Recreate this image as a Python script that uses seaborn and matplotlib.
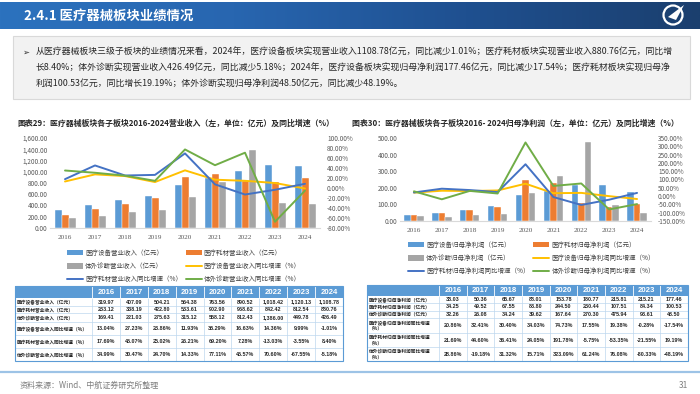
import matplotlib
matplotlib.use("Agg")
import matplotlib.pyplot as plt
from matplotlib.patches import Rectangle, Circle, Polygon, Patch
from matplotlib.lines import Line2D
from matplotlib.colors import LinearSegmentedColormap
from matplotlib.ticker import MultipleLocator, FuncFormatter
import numpy as np
import pandas as pd
import seaborn as sns

W, H = 700, 394

years = ["2016", "2017", "2018", "2019", "2020", "2021", "2022", "2023", "2024"]

# revenue (亿元) and yoy growth (%)
rev_device = [319.97, 407.09, 504.21, 564.38, 763.56, 890.52, 1018.42, 1120.13, 1108.78]
rev_consum = [233.12, 338.19, 422.80, 533.61, 902.90, 968.62, 842.42, 812.54, 880.76]
rev_ivd = [169.41, 221.03, 275.63, 315.12, 558.12, 812.43, 1386.00, 449.78, 426.49]
rev_device_yoy = [13.04, 27.23, 23.86, 11.93, 35.29, 16.63, 14.36, 9.99, -1.01]
rev_consum_yoy = [17.69, 45.07, 25.02, 26.21, 69.20, 7.28, -13.03, -3.55, 8.40]
rev_ivd_yoy = [34.99, 30.47, 24.70, 14.33, 77.11, 45.57, 70.60, -67.55, -5.18]

# net profit attributable to parent (亿元) and yoy growth (%)
np_device = [38.03, 50.36, 65.67, 88.01, 153.78, 180.77, 215.81, 215.21, 177.46]
np_consum = [34.25, 49.52, 67.55, 83.80, 244.50, 230.44, 107.51, 84.34, 100.53]
np_ivd = [32.26, 26.08, 34.24, 39.62, 167.64, 270.30, 475.94, 93.61, 48.50]
np_device_yoy = [20.86, 32.41, 30.40, 34.03, 74.73, 17.55, 19.38, -0.28, -17.54]
np_consum_yoy = [21.69, 44.60, 36.41, 24.05, 191.78, -5.75, -53.35, -21.55, 19.19]
np_ivd_yoy = [28.86, -19.18, 31.32, 15.71, 323.09, 61.24, 76.08, -80.33, -48.19]

rev_bar_names = ["医疗设备营业收入（亿元）", "医疗耗材营业收入（亿元）", "体外诊断营业收入（亿元）"]
rev_line_names = ["医疗设备营业收入同比增速（%）", "医疗耗材营业收入同比增速（%）", "体外诊断营业收入同比增速（%）"]
np_bar_names = ["医疗设备归母净利润（亿元）", "医疗耗材归母净利润（亿元）", "体外诊断归母净利润（亿元）"]
np_line_names = ["医疗设备归母净利润同比增速（%）", "医疗耗材归母净利润同比增速（%）", "体外诊断归母净利润同比增速（%）"]
np_table_labels = ["医疗设备归母净利润（亿元）", "医疗耗材归母净利润（亿元）", "体外诊断归母净利润（亿元）",
                   "医疗设备归母净利润同比增速\n（%）", "医疗耗材归母净利润同比增速\n（%）", "体外诊断归母净利润同比增速\n（%）"]

BAR_COLORS = ["#5B9BD5", "#ED7D31", "#A5A5A5"]
LINE_COLORS = ["#FFC000", "#4472C4", "#70AD47"]
HEAD_BLUE = "#5B9BD5"
TICK_GRAY = "#595959"

sns.set_theme(style="white")
plt.rcParams["font.family"] = ["Noto Sans CJK SC", "DejaVu Sans"]


def px_axes(fig, x0, y0, x1, y1):
    return fig.add_axes([x0 / W, 1 - y1 / H, (x1 - x0) / W, (y1 - y0) / H])


def draw_chart(fig, box, bars, lines, bar_names, line_names, left_lim, left_step,
               right_lim, right_step, legend_xy, legend_colspace):
    ax = px_axes(fig, *box)
    df = pd.DataFrame({
        "year": years * 3,
        "series": np.repeat(bar_names, len(years)),
        "value": np.concatenate(bars),
    })
    sns.barplot(data=df, x="year", y="value", hue="series", palette=BAR_COLORS,
                saturation=1, width=0.7, errorbar=None, legend=False, ax=ax,
                edgecolor="white", linewidth=0.3)
    ax2 = ax.twinx()
    for vals, c in zip(lines, LINE_COLORS):
        sns.lineplot(x=np.arange(len(years)), y=vals, color=c, linewidth=1.4, ax=ax2)
    ax.set_xlim(-0.5, len(years) - 0.5)
    ax.set_ylim(*left_lim)
    ax2.set_ylim(*right_lim)
    ax.yaxis.set_major_locator(MultipleLocator(left_step))
    ax2.yaxis.set_major_locator(MultipleLocator(right_step))
    ax.yaxis.set_major_formatter(FuncFormatter(lambda v, p: f"{v:,.2f}"))
    ax2.yaxis.set_major_formatter(FuncFormatter(lambda v, p: f"{v:.2f}%"))
    ax.set_xlabel("")
    ax.set_ylabel("")
    ax2.set_ylabel("")
    for a in (ax, ax2):
        for s in a.spines.values():
            s.set_visible(False)
        a.grid(False)
    ax.spines["bottom"].set_visible(True)
    ax.spines["bottom"].set_color("#D9D9D9")
    ax.spines["bottom"].set_linewidth(0.8)
    ax.tick_params(axis="y", length=0, pad=2, labelsize=4.6, labelcolor=TICK_GRAY)
    ax2.tick_params(axis="y", length=0, pad=5, labelsize=4.6, labelcolor=TICK_GRAY)
    ax.tick_params(axis="x", length=0, pad=5, labelsize=5.2, labelcolor=TICK_GRAY)
    for t in ax.get_xticklabels():
        t.set_family("Liberation Serif")

    patches = [Patch(facecolor=c, edgecolor="none") for c in BAR_COLORS]
    lns = [Line2D([0], [0], color=c, lw=1.4) for c in LINE_COLORS]
    handles = [patches[0], patches[2], lns[1], patches[1], lns[0], lns[2]]
    labels = [bar_names[0], bar_names[2], line_names[1], bar_names[1], line_names[0], line_names[2]]
    fig.legend(handles, labels, ncol=2, loc="upper left",
               bbox_to_anchor=(legend_xy[0] / W, 1 - legend_xy[1] / H),
               frameon=False, fontsize=4.7, handlelength=2.4, handleheight=0.9,
               handletextpad=0.35, labelspacing=0.8, columnspacing=legend_colspace,
               borderpad=0, borderaxespad=0, labelcolor="#404040")


def draw_table(bg, x_left, x_first, x_right, y_edges, row_labels, value_rows, pct_rows):
    n = len(years)
    col_w = (x_right - x_first) / n
    y_top, y_bot = y_edges[0], y_edges[-1]
    bg.add_patch(Rectangle((x_left, y_top), x_right - x_left, y_edges[1] - y_top,
                           facecolor=HEAD_BLUE, edgecolor="none", zorder=1))
    for i, yr in enumerate(years):
        bg.text(x_first + col_w * (i + 0.5), (y_edges[0] + y_edges[1]) / 2 + 0.3, yr,
                color="white", fontweight="bold", ha="center", va="center",
                fontsize=5.6, family="Liberation Sans", zorder=3)
    for y in y_edges[2:-1]:
        bg.plot([x_left, x_right], [y, y], color="#BDD7EE", lw=0.5, zorder=2)
    for i in range(n + 1):
        x = x_first + col_w * i
        bg.plot([x, x], [y_edges[1], y_bot], color="#BDD7EE", lw=0.5, zorder=2)
        bg.plot([x, x], [y_top, y_edges[1]], color="white", lw=0.6, zorder=2)
    bg.add_patch(Rectangle((x_left, y_top), x_right - x_left, y_bot - y_top,
                           facecolor="none", edgecolor=HEAD_BLUE, lw=0.8, zorder=3))
    rows = [[f"{v:,.2f}" for v in r] for r in value_rows] + \
           [[f"{v:.2f}%" for v in r] for r in pct_rows]
    for r, (lab, cells) in enumerate(zip(row_labels, rows)):
        yc = (y_edges[r + 1] + y_edges[r + 2]) / 2
        bg.text(x_left + 2, yc, lab, ha="left", va="center", fontsize=3.4,
                fontweight="bold", color="#262626", linespacing=1.2, zorder=3)
        for i, s in enumerate(cells):
            bg.text(x_first + col_w * (i + 0.5), yc, s, ha="center", va="center",
                    fontsize=3.9, fontweight="bold", color="#262626",
                    family="Liberation Sans", zorder=3)


fig = plt.figure(figsize=(7, 3.94), dpi=100)
bg = fig.add_axes([0, 0, 1, 1])
bg.set_xlim(0, W)
bg.set_ylim(H, 0)
bg.axis("off")

# header bar
cmap = LinearSegmentedColormap.from_list("hdr", ["#2C72BE", "#2866B0", "#1F5090", "#1B3F6E"])
bg.imshow(np.linspace(0, 1, 256)[None, :], cmap=cmap, aspect="auto",
          extent=[0, W, 29, 2], zorder=0)
bg.text(24, 16, "2.4.1 医疗器械板块业绩情况", color="white", fontsize=9.6,
        fontweight="bold", va="center", ha="left")
bg.add_patch(Circle((673, 15), 9.5, facecolor="none", edgecolor="white", lw=1.6, zorder=2))
bg.add_patch(Polygon([[668, 17], [684, 5], [676, 20]], closed=True, facecolor="white",
                     edgecolor="none", zorder=2))

# summary box
bg.add_patch(Rectangle((13, 36), 677, 63, facecolor="#F2F2F2", edgecolor="#D9D9D9", lw=0.8))
para = [
    "从医疗器械板块三级子板块的业绩情况来看，2024年，医疗设备板块实现营业收入1108.78亿元，同比减少1.01%；医疗耗材板块实现营业收入880.76亿元，同比增",
    "长8.40%；体外诊断实现营业收入426.49亿元，同比减少5.18%；2024年，医疗设备板块实现归母净利润177.46亿元，同比减少17.54%；医疗耗材板块实现归母净",
    "利润100.53亿元，同比增长19.19%；体外诊断实现归母净利润48.50亿元，同比减少48.19%。",
]
bg.text(22, 52, "➢", fontsize=6, va="center", ha="left", color="#262626",
        family=["DejaVu Sans"])
for i, line in enumerate(para):
    bg.text(36, 52 + 16 * i, line, fontsize=6.4, va="center", ha="left", color="#262626")

# chart titles
bg.text(17, 123, "图表29：医疗器械板块各子板块2016-2024营业收入（左，单位：亿元）及同比增速（%）",
        fontsize=5.7, fontweight="bold", va="center", ha="left", color="#262626")
bg.text(352, 123, "图表30：医疗器械板块各子板块2016- 2024归母净利润（左，单位：亿元）及同比增速（%）",
        fontsize=5.7, fontweight="bold", va="center", ha="left", color="#262626")

draw_chart(fig, (50, 138, 320, 228),
           [rev_device, rev_consum, rev_ivd],
           [rev_device_yoy, rev_consum_yoy, rev_ivd_yoy],
           rev_bar_names, rev_line_names,
           (0, 1600), 200, (-80, 100), 20, (67, 249), 0.6)

draw_chart(fig, (400, 138, 651, 221),
           [np_device, np_consum, np_ivd],
           [np_device_yoy, np_consum_yoy, np_ivd_yoy],
           np_bar_names, np_line_names,
           (0, 500), 100, (-150, 350), 50, (408, 241), 0.6)

# tables
draw_table(bg, 15, 92, 343, [286, 298, 306, 313, 322, 335, 348, 361],
           rev_bar_names + rev_line_names,
           [rev_device, rev_consum, rev_ivd],
           [rev_device_yoy, rev_consum_yoy, rev_ivd_yoy])
draw_table(bg, 367, 439, 688, [285, 296, 303, 311, 318, 333, 347, 361],
           np_table_labels,
           [np_device, np_consum, np_ivd],
           [np_device_yoy, np_consum_yoy, np_ivd_yoy])

# footer
bg.plot([0, W], [372, 372], color="#9DC3E6", lw=1.6)
bg.text(20, 385, "资料来源：Wind、中航证券研究所整理", fontsize=5.8, va="center",
        ha="left", color="#7F7F7F")
bg.text(683, 385, "31", fontsize=6, va="center", ha="center", color="#7F7F7F")

fig.savefig("out.png", dpi=100)
